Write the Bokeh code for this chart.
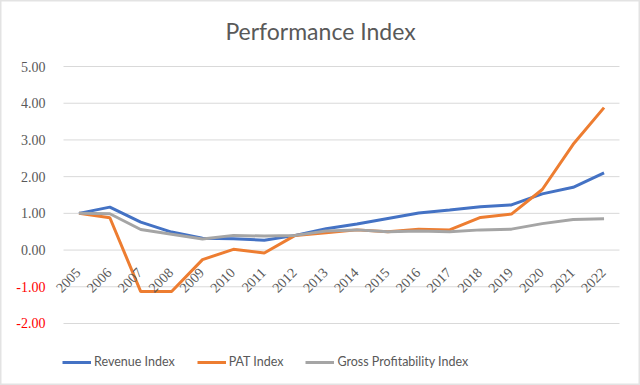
from bokeh.plotting import figure
from bokeh.models import (Range1d, Legend, LegendItem, ColumnDataSource, LabelSet, Label)
from bokeh.embed import file_html
from bokeh.resources import INLINE
from math import pi

years = list(range(2005, 2023))
revenue_index = [1.00, 1.17, 0.76, 0.49, 0.32, 0.31, 0.27, 0.40, 0.58, 0.71,
                 0.86, 1.01, 1.09, 1.18, 1.23, 1.53, 1.71, 2.10]
pat_index = [1.00, 0.88, -1.13, -1.13, -0.26, 0.02, -0.08, 0.40, 0.47, 0.55,
             0.50, 0.57, 0.55, 0.89, 0.98, 1.65, 2.88, 3.88]
gross_index = [1.00, 0.99, 0.56, 0.43, 0.30, 0.40, 0.38, 0.40, 0.52, 0.55,
               0.50, 0.52, 0.50, 0.55, 0.57, 0.72, 0.83, 0.85]
y_ticks = [-2, -1, 0, 1, 2, 3, 4, 5]

FONT = "Lato"
TXT = "#595959"

# plot area spans the data region 2004.5..2022.5 x -2..5; the frame is widened
# to the full canvas so that labels outside the data region are not clipped
X0, X1 = 2004.5, 2022.5
p = figure(width=640, height=385, output_backend="svg", toolbar_location=None,
           x_range=Range1d(2002.46, 2023.18), y_range=Range1d(-3.689, 6.798),
           min_border=0)
p.xaxis.visible = False
p.yaxis.visible = False
p.grid.grid_line_color = None
p.outline_line_color = "#e3e3e3"
p.outline_line_width = 2

# horizontal grid lines
p.segment(x0=[X0] * len(y_ticks), x1=[X1] * len(y_ticks), y0=y_ticks, y1=y_ticks,
          line_color="#d9d9d9", line_width=1)

# y tick labels (negative ones in red)
ysrc = ColumnDataSource(dict(x=[X0] * len(y_ticks), y=y_ticks,
                             t=[f"{v:.2f}" for v in y_ticks],
                             c=["#FF0000" if v < 0 else TXT for v in y_ticks]))
p.add_layout(LabelSet(x="x", y="y", text="t", source=ysrc, text_align="right",
                      text_baseline="middle", x_offset=-18, text_font=FONT,
                      text_font_size="14px", text_color="c"))

# category labels, rotated, along the zero line
yr_src = ColumnDataSource(dict(x=years, y=[0] * len(years), t=[str(y) for y in years]))
p.add_layout(LabelSet(x="x", y="y", text="t", source=yr_src, angle=pi / 4,
                      text_align="right", text_baseline="middle", x_offset=-1,
                      y_offset=-20, text_font=FONT, text_font_size="14px",
                      text_color=TXT))

# title
p.add_layout(Label(x=320, y=355, x_units="screen", y_units="screen",
                   text="Performance Index", text_align="center",
                   text_baseline="middle", text_font=FONT, text_font_size="23px",
                   text_color=TXT))

r1 = p.line(years, revenue_index, line_color="#4472C4", line_width=3)
r2 = p.line(years, pat_index, line_color="#ED7D31", line_width=3)
r3 = p.line(years, gross_index, line_color="#A5A5A5", line_width=3)

legend = Legend(items=[LegendItem(label="Revenue Index", renderers=[r1]),
                       LegendItem(label="PAT Index", renderers=[r2]),
                       LegendItem(label="Gross Profitability Index", renderers=[r3])],
                orientation="horizontal", location=(62, 16),
                glyph_width=29, glyph_height=14, label_standoff=3, spacing=22,
                padding=4, margin=0,
                label_text_font=FONT, label_text_font_size="12.5px",
                label_text_color=TXT, border_line_color=None,
                background_fill_alpha=0)
p.add_layout(legend, "center")

open("out.html", "w").write(file_html(p, INLINE))
